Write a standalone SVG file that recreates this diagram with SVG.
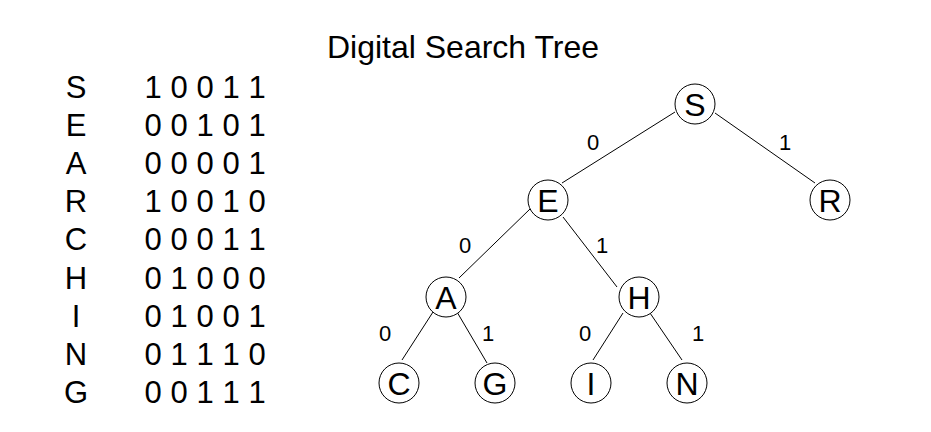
<svg xmlns="http://www.w3.org/2000/svg" width="931" height="432" viewBox="0 0 931 432">
<style>
text{font-family:"Liberation Sans",Arial,sans-serif;fill:#000}
.title{font-size:32px;text-anchor:middle}
.tbl{font-size:31px;text-anchor:middle}
.node circle{fill:#fff;stroke:#000;stroke-width:1}
.node text{font-size:32px;text-anchor:middle}
.edges line{stroke:#000;stroke-width:1}
.lbl{font-size:22px;text-anchor:middle}
</style>
<rect width="931" height="432" fill="#fff"/>
<text class="title" x="463" y="58">Digital Search Tree</text>
<g id="table">
<text class="tbl" x="76" y="98">S</text><text class="tbl" x="153 179 205 231 257" y="98">10011</text>
<text class="tbl" x="76" y="136">E</text><text class="tbl" x="153 179 205 231 257" y="136">00101</text>
<text class="tbl" x="76" y="174">A</text><text class="tbl" x="153 179 205 231 257" y="174">00001</text>
<text class="tbl" x="76" y="212">R</text><text class="tbl" x="153 179 205 231 257" y="212">10010</text>
<text class="tbl" x="76" y="250">C</text><text class="tbl" x="153 179 205 231 257" y="250">00011</text>
<text class="tbl" x="76" y="289">H</text><text class="tbl" x="153 179 205 231 257" y="289">01000</text>
<text class="tbl" x="76" y="327">I</text><text class="tbl" x="153 179 205 231 257" y="327">01001</text>
<text class="tbl" x="76" y="365">N</text><text class="tbl" x="153 179 205 231 257" y="365">01110</text>
<text class="tbl" x="76" y="403">G</text><text class="tbl" x="153 179 205 231 257" y="403">00111</text>
</g>
<g id="edges" class="edges">
<line x1="675" y1="112" x2="562" y2="183"/>
<line x1="715" y1="113" x2="815" y2="183"/>
<line x1="530" y1="209" x2="459" y2="278"/>
<line x1="563" y1="217" x2="617" y2="287"/>
<line x1="433" y1="312" x2="402" y2="360"/>
<line x1="457" y1="312" x2="487" y2="363"/>
<line x1="623" y1="313" x2="593" y2="360"/>
<line x1="650" y1="313" x2="682" y2="360"/>
<text class="lbl" x="593" y="150">0</text>
<text class="lbl" x="785" y="150">1</text>
<text class="lbl" x="465" y="253">0</text>
<text class="lbl" x="602" y="253">1</text>
<text class="lbl" x="385" y="341">0</text>
<text class="lbl" x="488" y="341">1</text>
<text class="lbl" x="585" y="341">0</text>
<text class="lbl" x="698" y="341">1</text>
</g>
<g id="node-S" class="node"><circle cx="695" cy="104" r="20"/><text x="695" y="116">S</text></g>
<g id="node-E" class="node"><circle cx="548" cy="200" r="20"/><text x="548" y="212">E</text></g>
<g id="node-R" class="node"><circle cx="830" cy="200" r="20"/><text x="830" y="212">R</text></g>
<g id="node-A" class="node"><circle cx="446" cy="297" r="20"/><text x="446" y="309">A</text></g>
<g id="node-H" class="node"><circle cx="639" cy="297" r="20"/><text x="639" y="309">H</text></g>
<g id="node-C" class="node"><circle cx="399" cy="383" r="20"/><text x="399" y="395">C</text></g>
<g id="node-G" class="node"><circle cx="495" cy="383" r="20"/><text x="495" y="395">G</text></g>
<g id="node-I" class="node"><circle cx="591" cy="383" r="20"/><text x="591" y="395">I</text></g>
<g id="node-N" class="node"><circle cx="687" cy="383" r="20"/><text x="687" y="395">N</text></g>
</svg>
